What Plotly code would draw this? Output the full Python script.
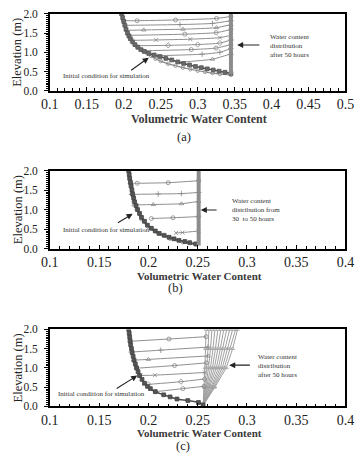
import plotly.graph_objects as go

W, H = 364, 462

# ---------------- data ----------------
# Panel (a)
a_init_x = [0.197, 0.1985, 0.2, 0.2015, 0.203, 0.205, 0.207, 0.209, 0.212, 0.215, 0.219, 0.223, 0.228,
            0.234, 0.241, 0.249, 0.257, 0.265, 0.273, 0.281, 0.289, 0.297, 0.305, 0.313, 0.321, 0.329, 0.337, 0.345]
a_init_y = [2.0, 1.9, 1.8, 1.7, 1.6, 1.5, 1.42, 1.35, 1.27, 1.2, 1.13, 1.07, 1.02,
            0.97, 0.93, 0.89, 0.84, 0.80, 0.75, 0.71, 0.67, 0.63, 0.60, 0.57, 0.54, 0.51, 0.48, 0.45]
a_final_x = [0.232, 0.237, 0.243, 0.25, 0.26, 0.27, 0.28, 0.29, 0.30, 0.31, 0.32, 0.33, 0.345]
a_final_y = [0.97, 0.90, 0.83, 0.77, 0.70, 0.65, 0.60, 0.56, 0.52, 0.49, 0.46, 0.435, 0.41]
a_prof_x = [
    [0.1995, 0.218, 0.27, 0.3255, 0.345],
    [0.2015, 0.276, 0.32, 0.345],
    [0.204, 0.227, 0.28, 0.3255, 0.345],
    [0.207, 0.2826, 0.325, 0.345],
    [0.211, 0.244, 0.29, 0.33, 0.345],
    [0.217, 0.26, 0.30, 0.33, 0.345],
    [0.226, 0.2913, 0.325, 0.345],
    [0.245, 0.306, 0.33, 0.345],
    [0.275, 0.32, 0.345],
]
a_prof_y = [
    [1.82, 1.82, 1.84, 1.88, 1.93],
    [1.70, 1.72, 1.75, 1.82],
    [1.57, 1.58, 1.60, 1.64, 1.72],
    [1.44, 1.47, 1.51, 1.59],
    [1.31, 1.32, 1.34, 1.38, 1.44],
    [1.17, 1.18, 1.20, 1.24, 1.32],
    [1.04, 1.07, 1.11, 1.20],
    [0.91, 0.95, 1.00, 1.10],
    [0.74, 0.82, 0.96],
]
a_sat_x = [0.345, 0.345]
a_sat_y = [0.42, 2.0]

# Panel (b)
b_init_x = [0.180, 0.1805, 0.181, 0.1818, 0.1825, 0.1833, 0.184, 0.185, 0.186, 0.1875, 0.189, 0.191, 0.193,
            0.196, 0.199, 0.203, 0.207, 0.211, 0.216, 0.221, 0.226, 0.231, 0.237, 0.242, 0.248]
b_init_y = [2.0, 1.9, 1.8, 1.7, 1.6, 1.5, 1.4, 1.3, 1.2, 1.1, 1.0, 0.9, 0.8,
            0.7, 0.6, 0.52, 0.45, 0.39, 0.34, 0.29, 0.25, 0.21, 0.18, 0.15, 0.12]
b_final_x = [0.180, 0.181, 0.182, 0.183, 0.185, 0.188, 0.193, 0.200, 0.210, 0.222, 0.235, 0.248]
b_final_y = [2.0, 1.8, 1.6, 1.4, 1.2, 1.0, 0.75, 0.55, 0.38, 0.25, 0.16, 0.10]
b_prof_x = [
    [0.1815, 0.1887, 0.22, 0.251],
    [0.183, 0.21, 0.2335, 0.251],
    [0.1855, 0.205, 0.2335, 0.251],
    [0.203, 0.225, 0.251],
    [0.228, 0.2345, 0.251],
]
b_prof_y = [
    [1.675, 1.675, 1.69, 1.74],
    [1.39, 1.40, 1.41, 1.44],
    [1.12, 1.13, 1.15, 1.21],
    [0.77, 0.79, 0.82],
    [0.40, 0.41, 0.45],
]
b_sat_x = [0.251, 0.251]
b_sat_y = [0.08, 2.0]

# Panel (c)
c_init_x = [0.180, 0.1805, 0.181, 0.1815, 0.182, 0.1828, 0.1835, 0.1845, 0.1855, 0.1867, 0.188, 0.1895, 0.191,
            0.1935, 0.196, 0.199, 0.202, 0.207, 0.2155, 0.222, 0.229, 0.240, 0.2508, 0.2555]
c_init_y = [2.0, 1.9, 1.8, 1.7, 1.6, 1.5, 1.4, 1.3, 1.2, 1.1, 1.0, 0.9, 0.8,
            0.7, 0.6, 0.52, 0.46, 0.38, 0.30, 0.245, 0.19, 0.15, 0.10, 0.04]
c_prof_x = [
    [0.1813, 0.2209, 0.2585],
    [0.1826, 0.2125, 0.2605],
    [0.1848, 0.200, 0.2605],
    [0.1877, 0.2265, 0.259],
    [0.192, 0.2066, 0.2575],
    [0.200, 0.233, 0.257],
    [0.207, 0.235, 0.2565],
]
c_prof_y = [
    [1.69, 1.75, 1.81],
    [1.41, 1.46, 1.54],
    [1.20, 1.22, 1.31],
    [0.99, 1.06, 1.13],
    [0.80, 0.81, 0.88],
    [0.57, 0.64, 0.71],
    [0.38, 0.46, 0.52],
]
c_fan_y = [0.02, 0.5, 1.0, 1.5, 2.0]
c_fan_x = [
    [0.2555, 0.2565, 0.2575, 0.258, 0.2585],
    [0.2555, 0.2575, 0.259, 0.2605, 0.2615],
    [0.2555, 0.2585, 0.261, 0.263, 0.2645],
    [0.2555, 0.2595, 0.263, 0.2655, 0.2675],
    [0.2555, 0.2605, 0.265, 0.268, 0.2705],
    [0.2555, 0.2615, 0.267, 0.2705, 0.2735],
    [0.2555, 0.2625, 0.269, 0.273, 0.2765],
    [0.2555, 0.2635, 0.271, 0.2755, 0.2795],
    [0.2555, 0.2645, 0.273, 0.278, 0.2825],
    [0.2555, 0.2655, 0.275, 0.2805, 0.2855],
    [0.2555, 0.2665, 0.277, 0.283, 0.2885],
    [0.2555, 0.2675, 0.279, 0.2855, 0.2905],
]

xticks_a = [0.1, 0.15, 0.2, 0.25, 0.3, 0.35, 0.4, 0.45, 0.5]
xticks_a_text = ["0.1", "0.15", "0.2", "0.25", "0.3", "0.35", "0.4", "0.45", "0.5"]
xticks_bc = [0.1, 0.15, 0.2, 0.25, 0.3, 0.35, 0.4]
xticks_bc_text = ["0.1", "0.15", "0.2", "0.25", "0.3", "0.35", "0.4"]
yticks = [0.0, 0.5, 1.0, 1.5, 2.0]
yticks_text = ["0.0", "0.5", "1.0", "1.5", "2.0"]
panel_labels = ["(a)", "(b)", "(c)"]
xtitle = "Volumetric Water Content"
ytitle = "Elevation (m)"
note_init = "Initial condition for simulation"
note_a = "Water content<br>distribution<br>after 50 hours"
note_b = "Water content<br>distribution from<br>30  to 50 hours"
note_c = "Water content<br>distribution<br>after 50 hours"

# ---------------- style ----------------
SERIF = "Liberation Serif, Times New Roman, serif"
LINE_C = "#8f8f8f"
DARK = "#4d4d4d"
symbols = ["circle-open", "cross-thin-open", "triangle-up-open", "circle-open", "x-thin-open", "diamond-open"]

fig = go.Figure()


def add_profiles(xs, ys, xa, ya):
    for i, (px, py) in enumerate(zip(xs, ys)):
        fig.add_trace(go.Scatter(x=px, y=py, xaxis=xa, yaxis=ya, mode="lines+markers",
                                 line=dict(color=LINE_C, width=1, shape="spline", smoothing=0.6),
                                 marker=dict(symbol=symbols[i % len(symbols)], size=4, color="#888",
                                             line=dict(width=0.8, color="#888")),
                                 showlegend=False, hoverinfo="skip"))


# Panel (a)
add_profiles(a_prof_x, a_prof_y, "x", "y")
fig.add_trace(go.Scatter(x=a_final_x, y=a_final_y, xaxis="x", yaxis="y", mode="lines+markers",
                         line=dict(color="#8a8a8a", width=1.2, shape="spline"),
                         marker=dict(symbol="circle-open", size=3.5, color="#8a8a8a", line=dict(width=0.8, color="#8a8a8a")),
                         showlegend=False))
fig.add_trace(go.Scatter(x=a_init_x, y=a_init_y, xaxis="x", yaxis="y", mode="lines+markers",
                         line=dict(color=DARK, width=1.5, shape="spline"),
                         marker=dict(symbol="square", size=3.8, color="#6a6a6a", line=dict(width=0.8, color="#555")),
                         showlegend=False))
fig.add_trace(go.Scatter(x=a_sat_x, y=a_sat_y, xaxis="x", yaxis="y", mode="lines",
                         line=dict(color="#8c8c8c", width=4), showlegend=False))

# Panel (b)
add_profiles(b_prof_x, b_prof_y, "x2", "y2")
fig.add_trace(go.Scatter(x=b_final_x, y=b_final_y, xaxis="x2", yaxis="y2", mode="lines+markers",
                         line=dict(color="#9a9a9a", width=1.5, shape="spline"),
                         marker=dict(symbol="circle-open", size=3.5, color="#9a9a9a", line=dict(width=0.8, color="#9a9a9a")),
                         showlegend=False))
fig.add_trace(go.Scatter(x=b_init_x, y=b_init_y, xaxis="x2", yaxis="y2", mode="lines+markers",
                         line=dict(color=DARK, width=1.5, shape="spline"),
                         marker=dict(symbol="square", size=3.8, color="#555", line=dict(width=0.8, color="#444")),
                         showlegend=False))
fig.add_trace(go.Scatter(x=b_sat_x, y=b_sat_y, xaxis="x2", yaxis="y2", mode="lines",
                         line=dict(color="#8c8c8c", width=4), showlegend=False))

# Panel (c)
for fx in c_fan_x:
    fig.add_trace(go.Scatter(x=fx, y=c_fan_y, xaxis="x3", yaxis="y3", mode="lines+markers",
                             line=dict(color="#a0a0a0", width=1),
                             marker=dict(symbol="triangle-up-open", size=3.5, color="#a5a5a5",
                                         line=dict(width=0.8, color="#a5a5a5")),
                             showlegend=False))
add_profiles(c_prof_x, c_prof_y, "x3", "y3")
fig.add_trace(go.Scatter(x=c_init_x, y=c_init_y, xaxis="x3", yaxis="y3", mode="lines+markers",
                         line=dict(color=DARK, width=1.5, shape="spline"),
                         marker=dict(symbol="square", size=3.8, color="#555", line=dict(width=0.8, color="#444")),
                         showlegend=False))

# ---------------- axes ----------------
xdom = [43 / W, 354 / W]
ydoms = [[1 - 87 / H, 1 - 8 / H], [1 - 249 / H, 1 - 169 / H], [1 - 411 / H, 1 - 332 / H]]
tickfont_x = dict(family=SERIF, size=14, color="#222")
tickfont_y = dict(family=SERIF, size=11.5, color="#222")


def xaxis_cfg(rng, tv, tt, anchor):
    return dict(domain=xdom, range=rng, anchor=anchor, tickvals=tv, ticktext=tt,
                showline=True, linecolor="black", linewidth=1.5, mirror=True,
                ticks="inside", ticklen=4, tickwidth=1, tickcolor="black",
                minor=dict(dtick=0.01, tick0=0.1, ticks="inside", ticklen=3, tickcolor="black", tickwidth=1),
                showgrid=False, zeroline=False, tickfont=tickfont_x, fixedrange=True)


def yaxis_cfg(dom, anchor):
    return dict(domain=dom, range=[0, 2.0], anchor=anchor, tickvals=yticks, ticktext=yticks_text,
                showline=True, linecolor="black", linewidth=1.5, mirror=True,
                ticks="outside", ticklen=4, tickwidth=1, tickcolor="black",
                minor=dict(dtick=0.05, tick0=0, ticks="outside", ticklen=2, tickcolor="black", tickwidth=1),
                showgrid=False, zeroline=False, tickfont=tickfont_y, ticklabelstandoff=4, fixedrange=True)


fig.update_layout(
    width=W, height=H, autosize=False,
    margin=dict(l=0, r=0, t=0, b=0),
    paper_bgcolor="white", plot_bgcolor="white",
    showlegend=False,
    xaxis=xaxis_cfg([0.1, 0.5], xticks_a, xticks_a_text, "y"),
    yaxis=yaxis_cfg(ydoms[0], "x"),
    xaxis2=xaxis_cfg([0.1, 0.4], xticks_bc, xticks_bc_text, "y2"),
    yaxis2=yaxis_cfg(ydoms[1], "x2"),
    xaxis3=xaxis_cfg([0.1, 0.4], xticks_bc, xticks_bc_text, "y3"),
    yaxis3=yaxis_cfg(ydoms[2], "x3"),
)

# ---------------- titles / labels ----------------
plot_centers_y = [(8 + 87) / 2, (169 + 249) / 2, (332 + 411) / 2]
xtitle_y = [116, 277, 438]
label_y = [135, 290, 452]
label_x = [184, 175, 183]
xtitle_size = [12, 11, 11]
for i in range(3):
    fig.add_annotation(xref="paper", yref="paper", x=9 / W, y=1 - plot_centers_y[i] / H,
                       text=ytitle, textangle=-90, showarrow=False,
                       font=dict(family=SERIF, size=12.5, color="#222"), xanchor="center", yanchor="middle")
    fig.add_annotation(xref="paper", yref="paper", x=200 / W, y=1 - xtitle_y[i] / H,
                       text="<b>" + xtitle + "</b>", showarrow=False,
                       font=dict(family=SERIF, size=xtitle_size[i], color="#3a3a3a"), xanchor="center", yanchor="middle")
    fig.add_annotation(xref="paper", yref="paper", x=label_x[i] / W, y=1 - label_y[i] / H,
                       text=panel_labels[i], showarrow=False,
                       font=dict(family=SERIF, size=12.5, color="#222"), xanchor="center", yanchor="middle")

note_font = dict(family=SERIF, size=7, color="#333")


def note(xr, yr, x, y, text, anchor, align):
    fig.add_annotation(xref=xr, yref=yr, x=x, y=y, text=text, showarrow=False, font=note_font,
                       xanchor=anchor, yanchor="middle", align=align)


def arrow(xr, yr, hx, hy, tx, ty):
    fig.add_annotation(xref=xr, yref=yr, x=hx, y=hy, ax=tx, ay=ty, axref=xr, ayref=yr, text="",
                       showarrow=True, arrowhead=2, arrowsize=1.1, arrowwidth=1.1, arrowcolor="#222")


# (a)
note("x", "y", 0.3945, 1.17, note_a, "left", "left")
arrow("x", "y", 0.3534, 1.19, 0.3855, 1.19)
note("x", "y", 0.1765, 0.38, note_init, "center", "center")
arrow("x", "y", 0.2338, 0.86, 0.208, 0.506)
# (b)
note("x2", "y2", 0.2833, 1.0, note_b, "left", "left")
arrow("x2", "y2", 0.2531, 0.99, 0.2707, 0.99)
note("x2", "y2", 0.157, 0.475, note_init, "center", "center")
arrow("x2", "y2", 0.184, 0.89, 0.1675, 0.64)
# (c)
note("x3", "y3", 0.3093, 1.055, note_c, "left", "left")
arrow("x3", "y3", 0.282, 1.07, 0.3045, 1.07)
note("x3", "y3", 0.1526, 0.33, note_init, "center", "center")
arrow("x3", "y3", 0.1887, 0.80, 0.1663, 0.44)

fig.write_html("out.html")
